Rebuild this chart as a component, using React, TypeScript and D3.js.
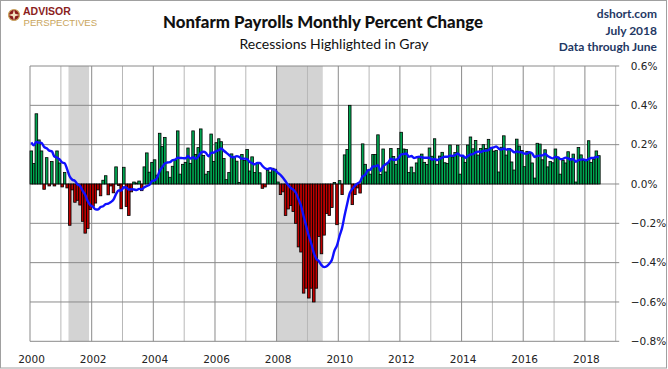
import React from 'react';
import * as d3 from 'd3';

// monthly % change in nonfarm payrolls
const prior1999 = [0.28, 0.15, 0.27, 0.18, 0.22, 0.22, 0.13, 0.16, 0.31, 0.22, 0.23]; // Feb-Dec 1999, only feeds the 12-mo average
const y2000 = [0.168, 0.104, 0.357, 0.224, 0.168, -0.027, 0.134, -0.01, 0.114, -0.01, 0.168, 0.107];
const y2001 = [-0.015, 0.058, -0.02, -0.21, -0.03, -0.093, -0.083, -0.107, -0.19, -0.25, -0.226, -0.13];
const y2002 = [-0.114, -0.097, -0.03, -0.06, 0.019, 0.042, -0.055, -0.01, -0.045, 0.087, -0.008, -0.126];
const y2003 = [0.085, -0.114, -0.16, -0.04, 0.01, 0.005, 0.015, -0.034, 0.087, 0.158, 0.06, 0.11];
const y2004 = [0.123, 0.045, 0.258, 0.19, 0.237, 0.062, 0.034, 0.09, 0.12, 0.27, 0.05, 0.1];
const y2005 = [0.11, 0.183, 0.105, 0.27, 0.15, 0.185, 0.28, 0.145, 0.05, 0.063, 0.254, 0.115];
const y2006 = [0.21, 0.23, 0.215, 0.13, 0.022, 0.058, 0.153, 0.136, 0.116, 0.008, 0.15, 0.12];
const y2007 = [0.175, 0.066, 0.138, 0.058, 0.104, 0.057, -0.022, -0.015, 0.07, 0.06, 0.08, 0.075];
const y2008 = [0.01, -0.054, -0.04, -0.16, -0.127, -0.11, -0.14, -0.2, -0.32, -0.346, -0.555, -0.53];
const y2009 = [-0.58, -0.53, -0.6, -0.53, -0.267, -0.355, -0.26, -0.15, -0.16, -0.12, 0.008, -0.207];
const y2010 = [0.017, -0.054, 0.148, 0.175, 0.4, -0.105, -0.054, -0.02, -0.046, 0.204, 0.1, 0.07];
const y2011 = [0.05, 0.15, 0.15, 0.25, 0.048, 0.178, 0.061, 0.104, 0.18, 0.14, 0.1, 0.18];
const y2012 = [0.263, 0.178, 0.175, 0.059, 0.086, 0.057, 0.107, 0.133, 0.152, 0.11, 0.099, 0.183];
const y2013 = [0.141, 0.23, 0.1, 0.142, 0.161, 0.108, 0.104, 0.198, 0.137, 0.16, 0.197, 0.05];
const y2014 = [0.138, 0.11, 0.198, 0.239, 0.179, 0.221, 0.147, 0.18, 0.2, 0.18, 0.227, 0.185];
const y2015 = [0.167, 0.17, 0.061, 0.187, 0.245, 0.147, 0.181, 0.112, 0.071, 0.228, 0.193, 0.17];
const y2016 = [0.088, 0.166, 0.157, 0.107, 0.03, 0.207, 0.203, 0.123, 0.174, 0.087, 0.115, 0.108];
const y2017 = [0.178, 0.137, 0.05, 0.12, 0.107, 0.164, 0.13, 0.152, 0.01, 0.186, 0.148, 0.12];
const y2018 = [0.12, 0.22, 0.11, 0.124, 0.168, 0.144];

const yTicks = [0.6, 0.4, 0.2, 0, -0.2, -0.4, -0.6, -0.8];
const xLabels = [2000, 2002, 2004, 2006, 2008, 2010, 2012, 2014, 2016, 2018];
const recessions = [["2001-04-01", "2001-12-01"], ["2008-01-01", "2009-07-01"]];
const infoLines = ["dshort.com", "July 2018", "Data through June"];

const values = [].concat(y2000, y2001, y2002, y2003, y2004, y2005, y2006, y2007, y2008,
  y2009, y2010, y2011, y2012, y2013, y2014, y2015, y2016, y2017, y2018);
const all = prior1999.concat(values);

const W = 668, H = 369;
const margin = { left: 30, top: 66, right: 52.3, bottom: 27.7 };

export default function App() {
  const x = d3.scaleTime()
    .domain([new Date(2000, 0, 1), new Date(2019, 0, 1)])
    .range([margin.left, W - margin.right]);
  const y = d3.scaleLinear()
    .domain([-0.8, 0.6])
    .range([H - margin.bottom, margin.top]);

  const months = values.map((v, i) => ({
    v,
    x0: x(new Date(2000, i, 1)),
    x1: x(new Date(2000, i + 1, 1)),
    avg: d3.mean(all.slice(i, i + 12)),
  }));

  const line = d3.line()
    .x(d => (d.x0 + d.x1) / 2)
    .y(d => y(d.avg))
    .curve(d3.curveMonotoneX);

  const years = d3.range(2000, 2020);
  const tickFont = "'DejaVu Sans', Verdana, sans-serif";
  const headFont = "Lato, 'Open Sans', sans-serif";

  return (
    <svg width={W} height={H} style={{ position: 'absolute', left: 0, top: 0, background: '#fff' }}>
      <rect x={0.5} y={0.5} width={W - 2} height={H - 1.5} fill="#fff" stroke="#a0a0a0" />

      {/* logo */}
      <g>
        <circle cx={14} cy={15} r={5.5} fill="#8b1e1e" stroke="#c9a55c" strokeWidth={1.2} />
        <path d="M14,9.5 L15.2,13.8 L19.5,15 L15.2,16.2 L14,20.5 L12.8,16.2 L8.5,15 L12.8,13.8 Z" fill="#f3e3c0" />
        <text x={23} y={14.5} fontFamily="'Liberation Sans', Arial, sans-serif" fontWeight="bold" fontSize={10.5} fill="#8b1e1e">ADVISOR</text>
        <text x={23.5} y={25.5} fontFamily="'Liberation Sans', Arial, sans-serif" fontSize={9.6} fill="#c9a55c">PERSPECTIVES</text>
      </g>

      <text x={323} y={28} textAnchor="middle" fontFamily={headFont} fontWeight="900" fontSize={16.8} fill="#111">
        Nonfarm Payrolls Monthly Percent Change
      </text>
      <text x={334} y={49} textAnchor="middle" fontFamily={headFont} fontSize={14} fill="#111">
        Recessions Highlighted in Gray
      </text>
      {infoLines.map((t, i) => (
        <text key={t} x={657} y={18 + i * 16.5} textAnchor="end" fontFamily={headFont} fontWeight="bold" fontSize={12} fill="#1f3864">{t}</text>
      ))}

      {/* recession shading */}
      {recessions.map(([a, b]) => (
        <rect key={a} x={x(new Date(a))} y={margin.top} width={x(new Date(b)) - x(new Date(a))}
          height={H - margin.bottom - margin.top} fill="#d3d3d3" />
      ))}

      {/* grid */}
      {years.map(yr => (
        <line key={yr} x1={x(new Date(yr, 0, 1))} x2={x(new Date(yr, 0, 1))} y1={margin.top} y2={H - margin.bottom}
          stroke={yr % 2 === 0 ? '#8a8a8a' : '#b8b8b8'} strokeWidth={1} />
      ))}
      {yTicks.map(t => (
        <g key={t}>
          <line x1={margin.left} x2={W - margin.right + 3.5} y1={y(t)} y2={y(t)} stroke="#8a8a8a" strokeWidth={1} />
          <text x={W - margin.right + 15} y={y(t)} dy="0.36em" fontFamily={tickFont} fontSize={10.5} fill="#222">
            {d3.format('.1f')(t)}%
          </text>
        </g>
      ))}
      {xLabels.map(yr => (
        <text key={yr} x={x(new Date(yr, 0, 1)) + 1.5} y={H - 6} textAnchor="middle" fontFamily={tickFont} fontSize={10.5} fill="#222">
          {yr}
        </text>
      ))}

      {/* bars */}
      {months.map((d, i) => (
        <rect key={i} x={d.x0} width={d.x1 - d.x0}
          y={Math.min(y(d.v), y(0))} height={Math.abs(y(d.v) - y(0))}
          fill={d.v >= 0 ? '#00a651' : '#c00000'} stroke="#000" strokeWidth={0.8} />
      ))}

      {/* 12-month average */}
      <path d={line(months)} fill="none" stroke="#1010ff" strokeWidth={2.4} strokeLinejoin="round" />
    </svg>
  );
}
